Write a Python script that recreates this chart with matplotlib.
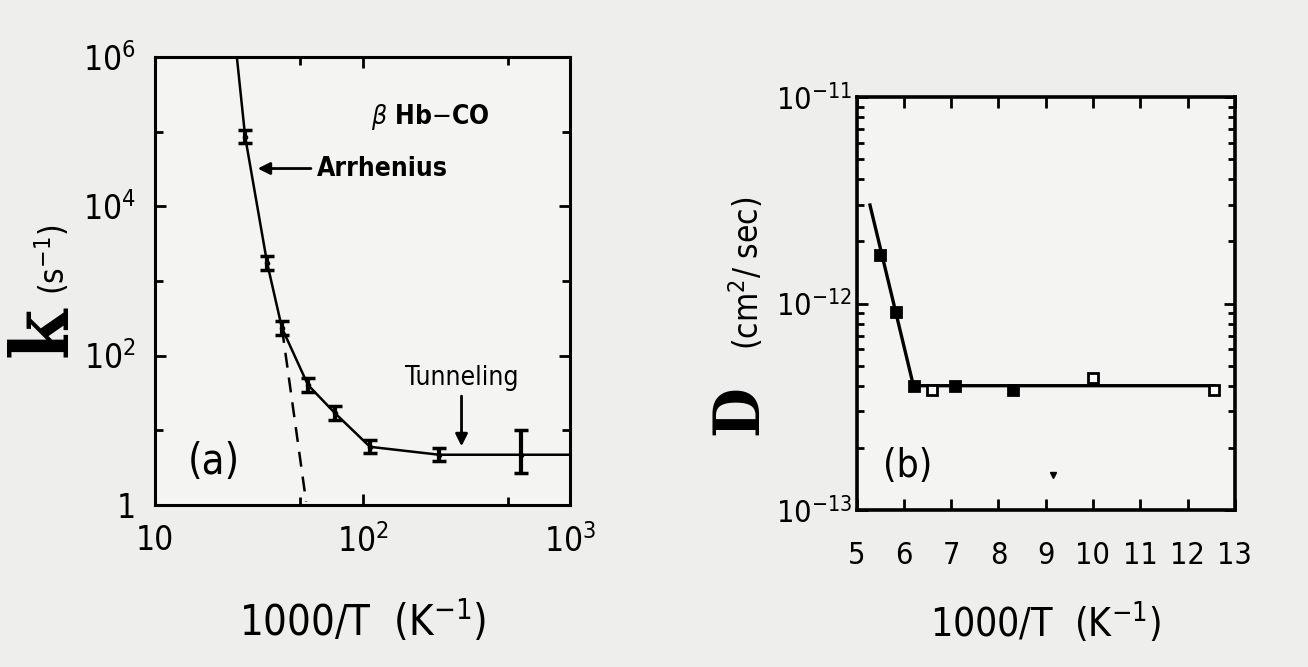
import numpy as np
import matplotlib.pyplot as plt
from matplotlib.ticker import FixedLocator, NullFormatter, LogLocator

plt.rcParams['font.family'] = ['DejaVu Sans']
plt.rcParams['font.stretch'] = 'condensed'

# panel (a): rate k vs 1000/T, beta Hb-CO
a_x = [27.2, 34.7, 40.9, 54.6, 73.6, 108.6, 234, 580]
a_k = [8.5e4, 1740, 234, 40.4, 17, 6.0, 4.7, 4.7]
a_k_lo = [7.0e4, 1420, 190, 33, 13.8, 4.9, 3.9, 2.7]
a_k_hi = [1.05e5, 2150, 290, 50, 21, 7.4, 5.7, 10]
fit_x = [24.8, 27.2, 34.7, 40.9, 54.6, 73.6, 108.6, 234, 580, 1000]
fit_k = [1e6, 8.5e4, 1740, 234, 40.4, 17, 6.0, 4.7, 4.7, 4.7]
arr_x = [40.9, 53.5]
arr_k = [234, 1.1]

# panel (b): D vs 1000/T
b_x = [5.49, 5.83, 6.21, 6.6, 7.08, 8.3, 10.0, 12.57]
b_D = [1.72e-12, 9.1e-13, 4.0e-13, 3.8e-13, 4.0e-13, 3.8e-13, 4.36e-13, 3.8e-13]
b_filled = [True, True, True, False, True, True, False, False]
b_line_x = [5.28, 6.2, 12.57]
b_line_D = [3.0e-12, 4.0e-13, 4.0e-13]

bg = '#eeeeec'
fig = plt.figure(figsize=(13.08, 6.67), dpi=100, facecolor=bg)

# ---- (a)
ax = fig.add_axes([0.1185, 0.243, 0.3173, 0.6717], facecolor='#f4f4f2')
ax.set_xscale('log')
ax.set_yscale('log')
ax.set_xlim(10, 1000)
ax.set_ylim(1, 1e6)
ax.plot(fit_x, fit_k, color='k', lw=1.8)
ax.plot(arr_x, arr_k, color='k', lw=1.8, ls=(0, (6, 4)))
k = np.array(a_k)
yerr = [k - np.array(a_k_lo), np.array(a_k_hi) - k]
ax.errorbar(a_x, a_k, yerr=yerr, fmt='o', ms=3, color='k', ecolor='k',
            elinewidth=3, capsize=5, capthick=2.5)
ax.xaxis.set_major_locator(FixedLocator([10, 100, 1000]))
ax.xaxis.set_minor_locator(FixedLocator([50, 500]))
ax.xaxis.set_minor_formatter(NullFormatter())
ax.set_xticklabels(['10', r'$10^2$', r'$10^3$'])
ax.yaxis.set_major_locator(FixedLocator([1, 1e2, 1e4, 1e6]))
ax.yaxis.set_minor_locator(FixedLocator([10, 1e3, 1e5]))
ax.yaxis.set_minor_formatter(NullFormatter())
ax.set_yticklabels(['1', r'$10^2$', r'$10^4$', r'$10^6$'])
ax.tick_params(which='both', direction='in', top=True, right=True, width=2,
               labelsize=24, pad=14)
ax.tick_params(which='major', length=8)
ax.tick_params(which='minor', length=6)
for s in ax.spines.values():
    s.set_linewidth(2.2)
ax.set_xlabel('1000/T  (K$^{-1}$)', fontsize=30, labelpad=28)

ax.text(0.52, 0.85, r'$\beta$ Hb$-$CO', transform=ax.transAxes, fontsize=19,
        fontweight='bold')
ax.annotate('Arrhenius', xy=(30.3, 3.2e4), xytext=(60, 3.2e4), fontsize=19,
            fontweight='bold', va='center',
            arrowprops=dict(arrowstyle='-|>', color='k', lw=2, mutation_scale=18))
ax.annotate('Tunneling', xy=(300, 5.6), xytext=(300, 34), fontsize=19,
            ha='center', va='bottom',
            arrowprops=dict(arrowstyle='-|>', color='k', lw=2, mutation_scale=18))
ax.text(0.08, 0.07, '(a)', transform=ax.transAxes, fontsize=30)

fig.text(0.034, 0.502, 'k', rotation=90, fontsize=58, fontweight='bold',
         family='DejaVu Serif', ha='center', va='center')
fig.text(0.040, 0.61, '(s$^{-1}$)', rotation=90, fontsize=24,
         ha='center', va='center')

# ---- (b)
bx = fig.add_axes([0.655, 0.2354, 0.289, 0.619], facecolor='#f4f4f2')
bx.set_yscale('log')
bx.set_xlim(5, 13)
bx.set_ylim(1e-13, 1e-11)
bx.plot(b_line_x, b_line_D, color='k', lw=2.4)
for x, d, f in zip(b_x, b_D, b_filled):
    bx.plot(x, d, marker='s', ms=7, color='k', mfc='k' if f else 'white',
            mew=2)
bx.plot(9.15, 1.48e-13, marker='v', ms=4, color='k')
bx.set_xticks(range(5, 14))
bx.yaxis.set_major_locator(LogLocator(base=10))
bx.yaxis.set_minor_locator(LogLocator(base=10, subs=np.arange(2, 10)))
bx.yaxis.set_minor_formatter(NullFormatter())
bx.set_yticks([1e-13, 1e-12, 1e-11])
bx.set_yticklabels([r'$10^{-13}$', r'$10^{-12}$', r'$10^{-11}$'])
bx.tick_params(which='both', direction='in', top=True, right=True, width=2,
               labelsize=22)
bx.tick_params(which='major', length=8)
bx.tick_params(which='minor', length=5)
bx.tick_params(axis='x', pad=22)
for s in bx.spines.values():
    s.set_linewidth(2.6)
bx.set_xlabel('1000/T  (K$^{-1}$)', fontsize=28, labelpad=22)
bx.text(0.07, 0.08, '(b)', transform=bx.transAxes, fontsize=28)

fig.text(0.566, 0.385, 'D', rotation=90, fontsize=46, fontweight='bold',
         family='DejaVu Serif', ha='center', va='center')
fig.text(0.571, 0.59, '(cm$^2$/ sec)', rotation=90, fontsize=24,
         ha='center', va='center')

fig.savefig('out.png', dpi=100, facecolor=bg)
